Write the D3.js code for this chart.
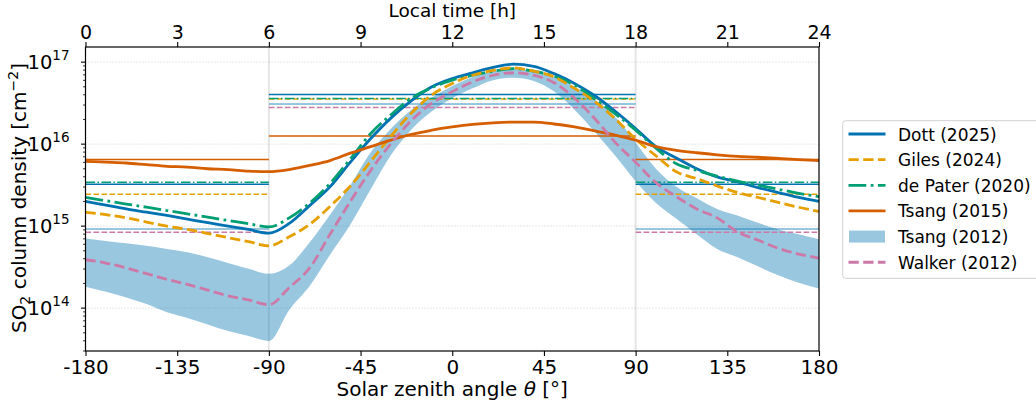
<!DOCTYPE html>
<html>
<head>
<meta charset="utf-8">
<script src="https://cdn.jsdelivr.net/npm/d3@7"></script>
<style>
  body { margin: 0; background: #fff; }
  svg { font-family: "DejaVu Sans", sans-serif; }
</style>
</head>
<body>
<svg id="chart" width="1036" height="406"></svg>
<script>
// solar zenith angle grid (deg)
const theta = [-180,-170,-160,-150,-140,-130,-120,-110,-100,-90,-80,-70,-60,-50,-40,-30,-20,-10,0,
               10,20,30,40,50,60,70,80,90,100,110,120,130,140,150,160,170,180];

// SO2 column density [cm^-2]
const dott = [2.0e15,1.80e15,1.62e15,1.48e15,1.35e15,1.22e15,1.10e15,1.00e15,9.1e14,8.2e14,1.08e15,1.78e15,3.02e15,6.03e15,1.17e16,2.09e16,3.39e16,5.01e16,6.31e16,
              7.41e16,8.61e16,9.44e16,8.91e16,7.24e16,5.50e16,3.89e16,2.51e16,1.55e16,9.3e15,6.76e15,5.01e15,3.98e15,3.47e15,2.95e15,2.57e15,2.24e15,2.0e15];
const giles = [1.48e15,1.38e15,1.26e15,1.12e15,1.00e15,9.12e14,8.13e14,7.24e14,6.46e14,5.75e14,7.41e14,1.05e15,1.74e15,3.09e15,6.17e15,1.26e16,2.40e16,3.98e16,5.50e16,
               6.92e16,7.94e16,8.51e16,7.76e16,6.61e16,4.79e16,3.31e16,2.04e16,1.15e16,7.2e15,4.6e15,3.80e15,3.09e15,2.57e15,2.24e15,1.95e15,1.70e15,1.51e15];
const dePater = [2.24e15,2.04e15,1.86e15,1.70e15,1.55e15,1.41e15,1.29e15,1.17e15,1.07e15,9.77e14,1.26e15,1.91e15,3.31e15,6.61e15,1.35e16,2.29e16,3.63e16,4.90e16,6.03e16,
                 6.92e16,7.76e16,8.32e16,7.76e16,6.76e16,5.25e16,3.55e16,2.34e16,1.48e16,8.91e15,5.75e15,4.79e15,4.07e15,3.55e15,3.16e15,2.82e15,2.51e15,2.29e15];
const tsang15 = [6.17e15,6.03e15,5.89e15,5.62e15,5.37e15,5.25e15,5.01e15,4.90e15,4.68e15,4.62e15,4.90e15,5.50e15,6.31e15,7.76e15,9.33e15,1.12e16,1.32e16,1.48e16,1.62e16,
                 1.74e16,1.82e16,1.86e16,1.86e16,1.76e16,1.62e16,1.45e16,1.29e16,1.12e16,9.33e15,8.41e15,7.85e15,7.41e15,7.08e15,6.92e15,6.68e15,6.46e15,6.31e15];
const walker = [3.89e14,3.55e14,3.09e14,2.63e14,2.24e14,1.95e14,1.66e14,1.41e14,1.26e14,1.10e14,1.78e14,3.09e14,7.94e14,2.00e15,4.79e15,1.02e16,1.95e16,3.16e16,4.37e16,
                5.75e16,6.92e16,7.41e16,6.92e16,5.62e16,3.63e16,2.04e16,1.05e16,6.03e15,3.39e15,2.29e15,1.62e15,1.26e15,8.51e14,6.76e14,5.37e14,4.57e14,4.07e14];
// Tsang (2012) range
const tsang12High = [7.08e14,6.61e14,6.17e14,5.75e14,5.25e14,4.79e14,4.17e14,3.55e14,3.02e14,2.63e14,3.31e14,6.31e14,1.38e15,3.16e15,7.94e15,1.55e16,2.63e16,3.72e16,5.13e16,
                     6.61e16,7.76e16,8.32e16,7.76e16,6.61e16,5.01e16,3.47e16,2.14e16,1.05e16,5.01e15,3.02e15,2.19e15,1.62e15,1.35e15,1.10e15,9.12e14,7.94e14,6.92e14];
const tsang12Low = [1.82e14,1.58e14,1.35e14,1.12e14,8.91e13,7.59e13,6.31e13,5.25e13,4.57e13,3.98e13,9.5e13,1.86e14,4.47e14,1.05e15,2.82e15,7.41e15,1.51e16,2.51e16,3.63e16,
                    4.79e16,6.03e16,6.46e16,5.89e16,4.37e16,2.63e16,1.41e16,7.24e15,3.55e15,1.91e15,1.23e15,7.94e14,5.25e14,4.17e14,3.24e14,2.51e14,2.04e14,1.74e14];

// order: Dott, Giles, de Pater, Tsang 2015, Tsang 2012, Walker
const names = ["Dott (2025)", "Giles (2024)", "de Pater (2020)", "Tsang (2015)", "Tsang (2012)", "Walker (2012)"];
const colors = ["#0072B2", "#E69F00", "#009E73", "#D55E00", "#0072B2", "#CC79A7"];
const dayMean = [4.03e16, 3.55e16, 3.60e16, 1.26e16, 3.08e16, 2.80e16];
const nightMean = [3.25e15, 2.45e15, 3.44e15, 6.50e15, 9.2e14, 8.4e14];

const xTicks = [-180, -135, -90, -45, 0, 45, 90, 135, 180];
const hourTicks = [0, 3, 6, 9, 12, 15, 18, 21, 24];
const yTicks = [1e14, 1e15, 1e16, 1e17];

const pLeft = 85.5, pRight = 819, pTop = 47, pBottom = 351;

const svg = d3.select("#chart");

const x = d3.scaleLinear().domain([-180, 180]).range([pLeft, pRight]);
const xh = d3.scaleLinear().domain([0, 24]).range([pLeft, pRight]);
const y = d3.scaleLog().domain([3.0e13, 1.53e17]).range([pBottom, pTop]);

// dash styles
const thickDash = {solid: null, dashed: "10.3,4.4", dashdot: "17.8,4.4,2.8,4.4"};
const thinDash = {solid: null, dashed: "5.6,2.4", dashdot: "9.6,2.4,1.5,2.4"};
const styles = ["solid", "dashed", "dashdot", "solid", "band", "dashed"];

// grid
svg.append("g").selectAll("line")
  .data(yTicks)
  .enter().append("line")
  .attr("x1", pLeft).attr("x2", pRight)
  .attr("y1", d => y(d)).attr("y2", d => y(d))
  .attr("stroke", "#cfcfcf").attr("stroke-width", 1)
  .attr("stroke-dasharray", "1,2");

svg.append("g").selectAll("line")
  .data([-90, 90])
  .enter().append("line")
  .attr("x1", d => x(d)).attr("x2", d => x(d))
  .attr("y1", pTop).attr("y2", pBottom)
  .attr("stroke", "#000").attr("stroke-opacity", 0.1).attr("stroke-width", 2);

const plot = svg.append("g");

// Tsang 2012 band
const area = d3.area()
  .x((d, i) => x(theta[i]))
  .y0((d, i) => y(tsang12Low[i]))
  .y1((d, i) => y(tsang12High[i]))
  .curve(d3.curveMonotoneX);
plot.append("path")
  .datum(tsang12High)
  .attr("d", area)
  .attr("fill", "#0072B2").attr("fill-opacity", 0.4);

// day / night mean lines
const segs = [];
names.forEach(function (n, i) {
  segs.push({i: i, x0: -180, x1: -90, v: nightMean[i]});
  segs.push({i: i, x0: -90, x1: 90, v: dayMean[i]});
  segs.push({i: i, x0: 90, x1: 180, v: nightMean[i]});
});
plot.append("g").selectAll("line")
  .data(segs)
  .enter().append("line")
  .attr("x1", d => x(d.x0)).attr("x2", d => x(d.x1))
  .attr("y1", d => y(d.v)).attr("y2", d => y(d.v))
  .attr("stroke", d => colors[d.i])
  .attr("stroke-opacity", d => styles[d.i] == "band" ? 0.4 : 1)
  .attr("stroke-width", d => styles[d.i] == "band" ? 2 : 1.5)
  .attr("stroke-dasharray", d => styles[d.i] == "band" ? null : thinDash[styles[d.i]]);

// curves
const series = [dott, giles, dePater, tsang15, null, walker];
const line = d3.line()
  .x((d, i) => x(theta[i]))
  .y(d => y(d))
  .curve(d3.curveMonotoneX);
[0, 2, 1, 3, 5].forEach(function (i) {
  plot.append("path")
    .datum(series[i])
    .attr("d", line)
    .attr("fill", "none")
    .attr("stroke", colors[i])
    .attr("stroke-width", 2.8)
    .attr("stroke-dasharray", thickDash[styles[i]]);
});

// frame
svg.append("rect")
  .attr("x", pLeft).attr("y", pTop)
  .attr("width", pRight - pLeft).attr("height", pBottom - pTop)
  .attr("fill", "none").attr("stroke", "#000").attr("stroke-width", 1.2);

// bottom axis
const xAxis = svg.append("g")
  .attr("transform", `translate(0,${pBottom})`)
  .call(d3.axisBottom(x).tickValues(xTicks).tickSize(5).tickPadding(4).tickFormat(d => String(d)));
xAxis.selectAll("text").style("font-size", "20px");
// top axis
const tAxis = svg.append("g")
  .attr("transform", `translate(0,${pTop})`)
  .call(d3.axisTop(xh).tickValues(hourTicks).tickSize(5).tickPadding(2.7).tickFormat(d => String(d)));
tAxis.selectAll("text").style("font-size", "19px");
[xAxis, tAxis].forEach(function (g) {
  g.select(".domain").remove();
  g.selectAll("line").attr("stroke", "#000").attr("stroke-width", 1.1);
  g.selectAll("text").attr("fill", "#000")
    .style("font-family", "DejaVu Sans, sans-serif");
});

// left axis: majors and log minors
svg.append("g").selectAll("line")
  .data(yTicks)
  .enter().append("line")
  .attr("x1", pLeft - 4.5).attr("x2", pLeft)
  .attr("y1", d => y(d)).attr("y2", d => y(d))
  .attr("stroke", "#000").attr("stroke-width", 1.1);
const minors = y.ticks().filter(d => yTicks.indexOf(d) < 0);
svg.append("g").selectAll("line")
  .data(minors)
  .enter().append("line")
  .attr("x1", pLeft - 2.5).attr("x2", pLeft)
  .attr("y1", d => y(d)).attr("y2", d => y(d))
  .attr("stroke", "#000").attr("stroke-width", 0.8);

const yLab = svg.append("g").selectAll("text")
  .data(yTicks)
  .enter().append("text")
  .attr("x", 69.5)
  .attr("y", d => y(d) + 7.1)
  .attr("text-anchor", "end")
  .style("font-size", "19.5px");
yLab.append("tspan").text("10");
yLab.append("tspan")
  .attr("dy", -9.3)
  .style("font-size", "13.5px")
  .text(d => String(Math.round(Math.log10(d))));

// axis titles
const xt = svg.append("text")
  .attr("x", (pLeft + pRight) / 2).attr("y", 396)
  .attr("text-anchor", "middle").style("font-size", "20px");
xt.append("tspan").text("Solar zenith angle ");
xt.append("tspan").style("font-style", "italic").text("θ");
xt.append("tspan").text(" [°]");

svg.append("text")
  .attr("x", (pLeft + pRight) / 2).attr("y", 17.2)
  .attr("text-anchor", "middle").style("font-size", "18.5px")
  .text("Local time [h]");

const yt = svg.append("text")
  .attr("transform", `translate(26,${(pTop + pBottom) / 2 - 1}) rotate(-90)`)
  .attr("text-anchor", "middle").style("font-size", "20px");
yt.append("tspan").text("SO");
yt.append("tspan").attr("dy", 4).style("font-size", "14px").text("2");
yt.append("tspan").attr("dy", -4).text(" column density [cm");
yt.append("tspan").attr("dy", -8).style("font-size", "14px").text("−2");
yt.append("tspan").attr("dy", 8).text("]");

// legend
const lg = svg.append("g");
lg.append("rect")
  .attr("x", 842.7).attr("y", 120.7)
  .attr("width", 210).attr("height", 157.6)
  .attr("rx", 3)
  .attr("fill", "#fff").attr("fill-opacity", 0.8)
  .attr("stroke", "#d0d0d0").attr("stroke-width", 1);
const rowY = i => 134 + i * 25.65;
names.forEach(function (n, i) {
  if (styles[i] == "band") {
    lg.append("rect")
      .attr("x", 849).attr("y", rowY(i) - 6)
      .attr("width", 36).attr("height", 12)
      .attr("fill", colors[i]).attr("fill-opacity", 0.4);
  } else {
    lg.append("line")
      .attr("x1", 848.5).attr("x2", 885.5)
      .attr("y1", rowY(i)).attr("y2", rowY(i))
      .attr("stroke", colors[i]).attr("stroke-width", 2.8)
      .attr("stroke-dasharray", thickDash[styles[i]]);
  }
  lg.append("text")
    .attr("x", 898).attr("y", rowY(i) + 6.5)
    .style("font-size", "17px")
    .text(n);
});
</script>
</body>
</html>
